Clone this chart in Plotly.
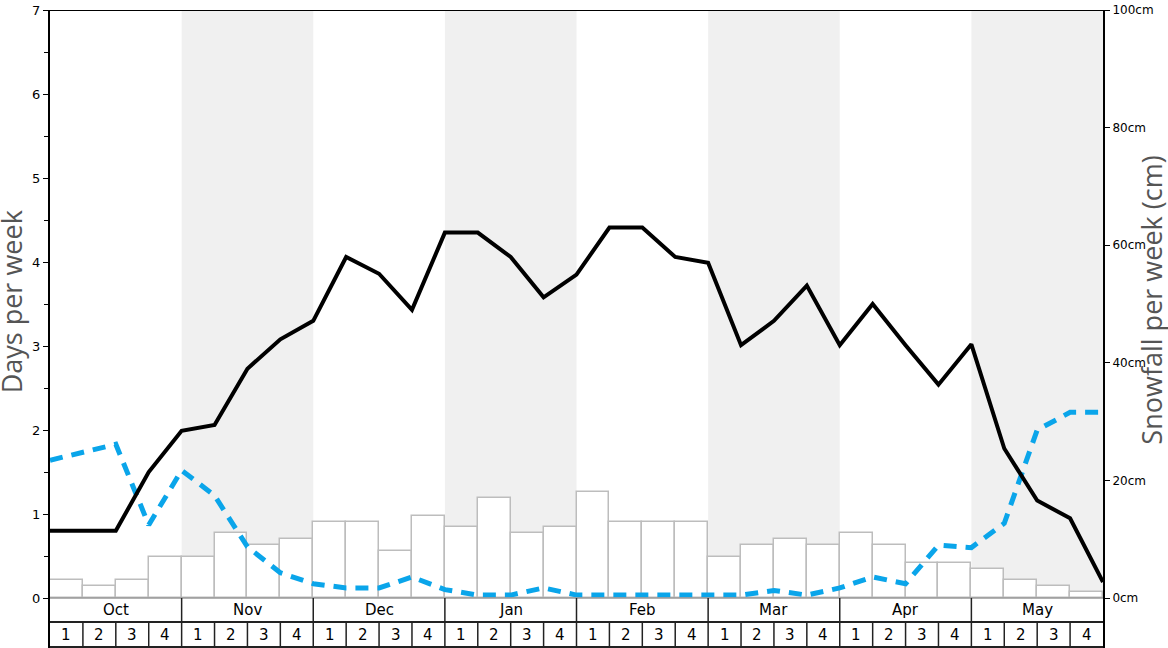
import plotly.graph_objects as go

months = ["Oct", "Nov", "Dec", "Jan", "Feb", "Mar", "Apr", "May"]
week_labels = ["1", "2", "3", "4"]

# Snowfall per week (cm), one per week (32 weeks)
snowfall_cm = [3, 2, 3, 7, 7, 11, 9, 10, 13, 13, 8, 14, 12, 17, 11, 12,
               18, 13, 13, 13, 7, 9, 10, 9, 11, 9, 6, 6, 5, 3, 2, 1]

# Days per week series, sampled at week boundaries (33 points)
days_black = [0.80, 0.80, 0.80, 1.50, 1.99, 2.06, 2.73, 3.08, 3.30, 4.06, 3.86,
              3.43, 4.35, 4.35, 4.06, 3.58, 3.85, 4.41, 4.41, 4.06, 3.99, 3.01,
              3.30, 3.72, 3.01, 3.50, 3.01, 2.54, 3.02, 1.78, 1.16, 0.95, 0.19]
days_blue = [1.64, 1.74, 1.83, 0.87, 1.52, 1.22, 0.61, 0.30, 0.17, 0.12, 0.12,
             0.25, 0.10, 0.035, 0.035, 0.12, 0.035, 0.035, 0.035, 0.035, 0.035,
             0.035, 0.09, 0.035, 0.12, 0.25, 0.17, 0.63, 0.60, 0.89, 2.00, 2.21, 2.21]

n_weeks = len(snowfall_cm)
week_centers = [i + 0.5 for i in range(n_weeks)]
edges = list(range(n_weeks + 1))

Y_MIN = -0.595
Y_MAX = 7
CM_PER_DAY = 100 / 7
ROW_SPLIT = -0.2857
ROW_BOTTOM = -0.583

font_family = "DejaVu Sans"
title_family = "Open Sans"
W, H = 1168, 648
ML, MR, MT = 50, 65, 10

fig = go.Figure()

# bars on the cm axis (y, right side); lines on the days axis (y2, left, overlaying -> drawn on top)
fig.add_trace(go.Bar(
    x=week_centers, y=snowfall_cm, yaxis="y", width=1,
    marker=dict(color="white", line=dict(color="#bdbdbd", width=1.5)),
    showlegend=False, hoverinfo="skip"))

fig.add_trace(go.Scatter(
    x=edges, y=days_blue, mode="lines", yaxis="y2",
    line=dict(color="#0aa5ea", width=5, dash="13px,9px"),
    showlegend=False))

fig.add_trace(go.Scatter(
    x=edges, y=days_black, mode="lines", yaxis="y2",
    line=dict(color="black", width=4),
    showlegend=False))

shapes = []
for m in range(len(months)):
    if m % 2 == 1:
        shapes.append(dict(type="rect", xref="x", yref="y2", x0=m * 4, x1=m * 4 + 4,
                           y0=0, y1=Y_MAX, fillcolor="#f0f0f0", line=dict(width=0),
                           layer="below"))
shapes.append(dict(type="line", xref="x", yref="y2", x0=0, x1=n_weeks, y0=0, y1=0,
                   line=dict(color="#999", width=1.5)))
shapes.append(dict(type="line", xref="x", yref="y2", x0=0, x1=n_weeks, y0=Y_MAX, y1=Y_MAX,
                   line=dict(color="black", width=2)))
shapes.append(dict(type="line", xref="x", yref="y2", x0=0, x1=n_weeks, y0=ROW_SPLIT, y1=ROW_SPLIT,
                   line=dict(color="#222", width=2)))
shapes.append(dict(type="line", xref="x", yref="y2", x0=0, x1=n_weeks, y0=ROW_BOTTOM, y1=ROW_BOTTOM,
                   line=dict(color="#222", width=2)))
for m in range(1, len(months)):
    shapes.append(dict(type="line", xref="x", yref="y2", x0=m * 4, x1=m * 4, y0=0, y1=Y_MIN,
                       line=dict(color="#222", width=1.5)))
for w in range(1, n_weeks):
    if w % 4 != 0:
        shapes.append(dict(type="line", xref="x", yref="y2", x0=w, x1=w, y0=ROW_SPLIT, y1=Y_MIN,
                           line=dict(color="#222", width=1.5)))

annotations = []
for m, name in enumerate(months):
    annotations.append(dict(x=m * 4 + 2, y=-0.143, xref="x", yref="y2", text=name,
                            showarrow=False, font=dict(size=15, color="black", family=font_family)))
    for k, wl in enumerate(week_labels):
        annotations.append(dict(x=m * 4 + k + 0.5, y=-0.44, xref="x", yref="y2", text=wl,
                                showarrow=False, font=dict(size=15, color="black", family=font_family)))

pw = W - ML - MR
annotations.append(dict(x=(11 - ML) / pw, y=3.52, xref="paper", yref="y2", xanchor="center",
                        yanchor="middle", text="Days per week", textangle=-90, showarrow=False,
                        font=dict(size=27, color="#555", family=title_family)))
annotations.append(dict(x=(1152 - ML) / pw, y=3.54, xref="paper", yref="y2", xanchor="center",
                        yanchor="middle", text="Snowfall per week (cm)", textangle=-90,
                        showarrow=False, font=dict(size=27, color="#555", family=title_family)))

fig.update_layout(
    width=W, height=H,
    margin=dict(l=ML, r=MR, t=MT, b=0, pad=0, autoexpand=False),
    paper_bgcolor="white", plot_bgcolor="white",
    bargap=0,
    font=dict(family=font_family),
    xaxis=dict(range=[0, n_weeks], visible=False, showgrid=False, zeroline=False),
    yaxis=dict(range=[Y_MIN * CM_PER_DAY, 100], side="right", automargin=False,
               tickvals=[0, 20, 40, 60, 80, 100],
               ticktext=["0cm", "20cm", "40cm", "60cm", "80cm", "100cm"],
               showgrid=False, zeroline=False, showline=True, linecolor="black", linewidth=2,
               ticks="outside", ticklen=5, tickwidth=1, tickcolor="black",
               tickfont=dict(size=12, color="black")),
    yaxis2=dict(range=[Y_MIN, Y_MAX], overlaying="y", side="left", automargin=False,
                tickvals=list(range(0, 8)),
                showgrid=False, zeroline=False, showline=True, linecolor="black", linewidth=2,
                ticks="outside", ticklen=5, tickwidth=1, tickcolor="black",
                tickfont=dict(size=13, color="black"),
                minor=dict(tickvals=[i + 0.5 for i in range(7)], ticks="outside", ticklen=4,
                           tickcolor="black", tickwidth=1)),
    shapes=shapes,
    annotations=annotations,
)

fig.write_html("out.html", config={"displayModeBar": False},
               post_script="document.body.style.margin='0';document.body.style.overflow='hidden';")
